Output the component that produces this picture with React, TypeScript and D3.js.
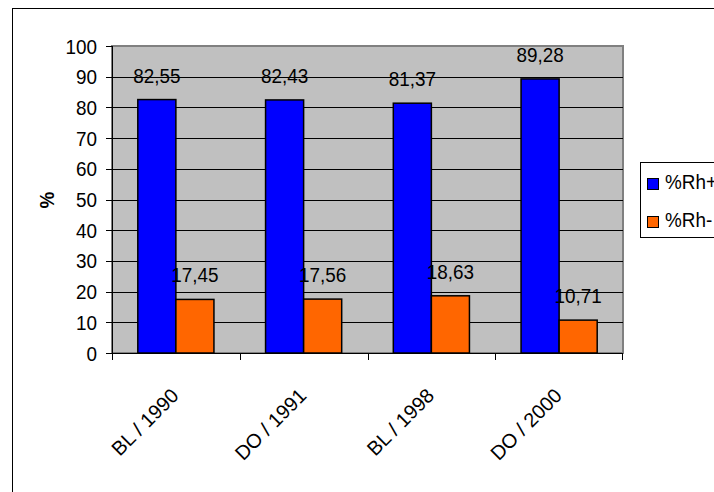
import React from "react";
import * as d3 from "d3";

const categories = ["BL / 1990", "DO / 1991", "BL / 1998", "DO / 2000"];
const rhPlus = [82.55, 82.43, 81.37, 89.28];
const rhMinus = [17.45, 17.56, 18.63, 10.71];
const seriesNames = ["%Rh+", "%Rh-"];
const seriesColors = ["#0000FF", "#FF6600"];
const yTicks = [0, 10, 20, 30, 40, 50, 60, 70, 80, 90, 100];

const W = 714;
const H = 492;
const plot = { left: 112, right: 623, top: 46, bottom: 353 };
const FONT = "'Liberation Sans', Arial, sans-serif";
const FS = 21;
const SX = 0.9;

function T(props: {
  x: number;
  y: number;
  anchor?: "start" | "middle" | "end";
  rotate?: number;
  bold?: boolean;
  dy?: string;
  children: React.ReactNode;
}) {
  const { x, y, anchor = "start", rotate = 0, bold, dy, children } = props;
  return (
    <g transform={`translate(${x},${y}) rotate(${rotate}) scale(${SX},1)`}>
      <text
        x={0}
        y={0}
        dy={dy}
        textAnchor={anchor}
        fontSize={FS}
        fontWeight={bold ? "bold" : "normal"}
        fill="#000"
      >
        {children}
      </text>
    </g>
  );
}

export default function App() {
  const x = d3
    .scaleBand<string>()
    .domain(categories)
    .range([plot.left, plot.right])
    .paddingInner(0)
    .paddingOuter(0);
  const y = d3.scaleLinear().domain([0, 100]).range([plot.bottom, plot.top]);
  const bw = x.bandwidth();
  const barW = bw * 0.298;
  const gap = (bw - 2 * barW) / 2;
  const series = [rhPlus, rhMinus];
  const fmt = (v: number) => v.toFixed(2).replace(".", ",");

  return (
    <svg
      width={W}
      height={H}
      style={{ position: "absolute", left: 0, top: 0, background: "#fff" }}
      fontFamily={FONT}
    >
      <rect x={0} y={0} width={W} height={H} fill="#fff" />
      <rect x={12.5} y={8.5} width={720} height={500} fill="none" stroke="#000" strokeWidth={1} />
      {/* plot area */}
      <rect
        x={plot.left}
        y={plot.top}
        width={plot.right - plot.left}
        height={plot.bottom - plot.top}
        fill="#C0C0C0"
        stroke="#808080"
        strokeWidth={2}
      />
      {/* gridlines */}
      {yTicks
        .filter((t) => t > 0 && t < 100)
        .map((t) => (
          <line
            key={"g" + t}
            x1={plot.left}
            x2={plot.right}
            y1={Math.round(y(t)) + 0.5}
            y2={Math.round(y(t)) + 0.5}
            stroke="#000"
            strokeWidth={1}
          />
        ))}
      {/* y axis */}
      <line x1={plot.left + 0.5} x2={plot.left + 0.5} y1={plot.top} y2={plot.bottom} stroke="#000" />
      {yTicks.map((t) => (
        <g key={"yt" + t}>
          <line
            x1={plot.left - 6}
            x2={plot.left}
            y1={Math.round(y(t)) + 0.5}
            y2={Math.round(y(t)) + 0.5}
            stroke="#000"
          />
          <T x={97} y={y(t)} dy="0.36em" anchor="end">
            {t}
          </T>
        </g>
      ))}
      <T x={54} y={200} rotate={-90} anchor="middle" bold>
        %
      </T>
      {/* bars */}
      {categories.map((c, i) => {
        const x0 = (x(c) as number) + gap;
        return (
          <g key={c}>
            {series.map((s, j) => {
              const bx = x0 + j * barW;
              return (
                <g key={j}>
                  <rect
                    x={bx}
                    y={y(s[i])}
                    width={barW}
                    height={y(0) - y(s[i])}
                    fill={seriesColors[j]}
                    stroke="#000"
                    strokeWidth={1.5}
                  />
                  <T x={bx + barW / 2} y={y(s[i]) - 17} anchor="middle">
                    {fmt(s[i])}
                  </T>
                </g>
              );
            })}
          </g>
        );
      })}
      {/* x axis */}
      <line x1={plot.left} x2={plot.right} y1={plot.bottom + 0.5} y2={plot.bottom + 0.5} stroke="#000" />
      {categories.map((c, i) => (
        <line
          key={"xt" + i}
          x1={Math.round(x(c) as number) + 0.5}
          x2={Math.round(x(c) as number) + 0.5}
          y1={plot.bottom}
          y2={plot.bottom + 7}
          stroke="#000"
        />
      ))}
      <line
        x1={plot.right - 0.5}
        x2={plot.right - 0.5}
        y1={plot.bottom}
        y2={plot.bottom + 7}
        stroke="#000"
      />
      {categories.map((c) => {
        const cx = (x(c) as number) + bw / 2;
        return (
          <g key={"xl" + c} transform={`translate(${cx + 4},${plot.bottom + 44}) rotate(-45)`}>
            <text x={0} y={0} textAnchor="end" fontSize={20} fill="#000">
              {c}
            </text>
          </g>
        );
      })}
      {/* legend */}
      <rect x={640.5} y={162.5} width={100} height={75} fill="#fff" stroke="#000" strokeWidth={1} />
      {seriesNames.map((n, j) => (
        <g key={n}>
          <rect
            x={647.5}
            y={178.5 + j * 38}
            width={11}
            height={11}
            fill={seriesColors[j]}
            stroke="#000"
            strokeWidth={1}
          />
          <T x={665} y={189 + j * 38}>
            {n}
          </T>
        </g>
      ))}
    </svg>
  );
}
